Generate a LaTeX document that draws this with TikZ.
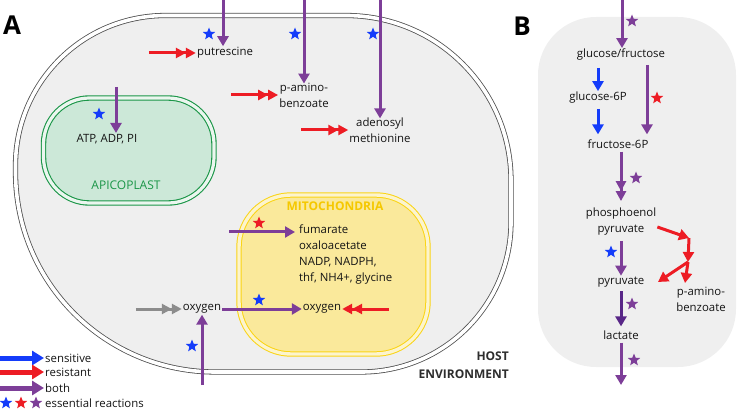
\documentclass[tikz,border=0pt]{standalone}
\usepackage{fontspec}
\setmainfont{Open Sans}
\usetikzlibrary{arrows.meta,shapes.geometric,calc,positioning}

\definecolor{sensblue}{RGB}{20,60,250}
\definecolor{resred}{RGB}{237,28,36}
\definecolor{bothpurple}{RGB}{125,62,152}
\definecolor{lactpurple}{RGB}{88,38,135}
\definecolor{o2gray}{RGB}{140,140,140}
\definecolor{cellfill}{RGB}{239,239,239}
\definecolor{membrane}{RGB}{80,80,80}
\definecolor{apifill}{RGB}{204,232,216}
\definecolor{apigreen}{RGB}{27,150,72}
\definecolor{mitofill}{RGB}{250,233,155}
\definecolor{mitoline}{RGB}{250,212,20}
\definecolor{mitotext}{RGB}{245,200,0}
\definecolor{hosttext}{RGB}{45,45,45}

\tikzset{
  flux/.style={line width=3pt,-{Triangle[length=10pt,width=11pt]}},
  sens/.style={flux,draw=sensblue},
  res/.style={flux,draw=resred},
  both/.style={flux,draw=bothpurple},
  twin/.style={line width=3pt,-{Triangle[length=10pt,width=10pt]Triangle[length=10pt,width=10pt]}},
  keyarrow/.style={line width=5pt,-{Triangle[length=12pt,width=14pt]}},
  ess/.style={star,star points=5,star point ratio=2.3,inner sep=0pt,minimum size=13pt,draw=none},
  lbl/.style={font=\fontsize{11.4}{16}\selectfont,inner sep=1pt,align=center,text=black!92},
  panel/.style={font=\fontsize{26}{26}\selectfont\bfseries,inner sep=0pt},
}

\begin{document}
\begin{tikzpicture}[x=1pt,y=1pt,yscale=-1]
\useasboundingbox (0,0) rectangle (737,409);

% host cell with double membrane
\draw[fill=cellfill,draw=membrane,line width=0.8pt,double=white,double distance=3.6pt]
  (300,15.5) [rounded corners=165pt] -- (511,15.5) [rounded corners=150pt] -- (511,372)
  [rounded corners=200pt] -- (15.5,372) [rounded corners=150pt] -- (15.5,15.5) [sharp corners] -- cycle;

% organelles
\draw[fill=apifill,draw=apigreen,line width=1.1pt,double=white!60!apifill,double distance=3.2pt,
  rounded corners=46pt] (43.5,98) rectangle (214,203);
\draw[fill=mitofill,draw=mitoline,line width=1pt,double=white!50!mitofill,double distance=3.4pt,
  rounded corners=52pt] (239,195) rectangle (428,354);

% panel B background
\fill[cellfill,rounded corners=58pt] (538,17) rectangle (736,367);

% panel letters
\node[panel] (lettA) at (12,25) {A};
\node[panel] (lettB) at (522,26) {B};

% metabolites, panel A
\node[lbl] (put) at (225,53) {putrescine};
\node[lbl] (pab) at (304,95) {p-amino-\\benzoate};
\node[lbl] (sam) at (380,130) {adenosyl\\methionine};
\node[lbl] (atp) at (107,139) {ATP, ADP, PI};
\node[lbl,font=\fontsize{12}{14}\selectfont,text=apigreen] (apiname) at (126,185) {APICOPLAST};
\node[lbl,font=\fontsize{12}{14}\selectfont\bfseries,text=mitotext] (mitoname) at (335,206) {MITOCHONDRIA};
\node[lbl,anchor=north west,align=left] (mitoin) at (298,224) {fumarate\\oxaloacetate\\NADP, NADPH,\\thf, NH4+, glycine};
\node[lbl] (oxc) at (202,309) {oxygen};
\node[lbl] (oxm) at (322,309) {oxygen};
\node[lbl,anchor=east,align=right,font=\fontsize{12}{18}\selectfont\bfseries,text=hosttext] (host) at (510,365) {HOST\\ENVIRONMENT};

% free ends
\coordinate (putsrc) at (223,0);
\coordinate (pabsrc) at (304,0);
\coordinate (samsrc) at (380,0);
\coordinate (atpsrc) at (116,87);
\coordinate (fumsrc) at (229,232);
\coordinate (fumtip) at (295,232);
\coordinate (oxsrc) at (202,385);

% uptake from host
\draw[both] (putsrc) -- (put.north -| putsrc);
\draw[both] (pabsrc) -- ([yshift=2pt]pab.north);
\draw[both] (samsrc) -- ([yshift=2pt]sam.north);
\draw[both] (atpsrc) -- (atp.north -| atpsrc);
\draw[both] (fumsrc) -- (fumtip);
\draw[both] (oxc.east) -- (oxm.west);
\draw[both] (oxsrc) -- (oxc.south);

% synthesis (resistant) and gas
\draw[twin,draw=resred] ($(put.west)+(-47,0)$) -- (put.west);
\draw[twin,draw=resred] ($(pab.west)+(-47,0)$) -- (pab.west);
\draw[twin,draw=resred] ($(sam.west)+(-47,0)$) -- (sam.west);
\draw[twin,draw=resred] ($(oxm.east)+(47,0)$) -- (oxm.east);
\draw[twin,draw=o2gray] ($(oxc.west)+(-46,0)$) -- (oxc.west);

% essential reactions, panel A
\node[ess,fill=sensblue] (sput) at (209,34) {};
\node[ess,fill=sensblue] (spab) at (295,34) {};
\node[ess,fill=sensblue] (ssam) at (373,34) {};
\node[ess,fill=sensblue] (satp) at (99,114) {};
\node[ess,fill=resred] (sfum) at (259,223) {};
\node[ess,fill=sensblue] (soxm) at (259,300) {};
\node[ess,fill=sensblue] (soxc) at (192,346) {};

% legend
\coordinate (keyA) at (0,358);
\coordinate (keyB) at (0,372);
\coordinate (keyC) at (0,388);
\node[lbl,anchor=west] (ksens) at (44,358) {sensitive};
\node[lbl,anchor=west] (kres) at (44,372) {resistant};
\node[lbl,anchor=west] (kboth) at (44,388) {both};
\node[lbl,anchor=west] (kess) at (44,403) {essential reactions};
\draw[keyarrow,draw=sensblue] (keyA) -- (ksens.west);
\draw[keyarrow,draw=resred] (keyB) -- (kres.west);
\draw[keyarrow,draw=bothpurple] (keyC) -- (kboth.west);
\node[ess,fill=sensblue] (kstarA) at (6,403) {};
\node[ess,fill=resred] (kstarB) at (21,403) {};
\node[ess,fill=bothpurple] (kstarC) at (36,403) {};

% panel B: glycolysis
\node[lbl] (gf) at (621,55) {glucose/fructose};
\node[lbl] (g6p) at (598,98) {glucose-6P};
\node[lbl] (f6p) at (618,144) {fructose-6P};
\node[lbl] (pep) at (621,222) {phosphoenol\\pyruvate};
\node[lbl] (pyr) at (621,282) {pyruvate};
\node[lbl] (lac) at (621,335) {lactate};
\node[lbl] (pabB) at (701,299) {p-amino-\\benzoate};

\coordinate (gfsrc) at (622,0);
\coordinate (fx) at (647,0);
\coordinate (lacout) at (621,385);
\coordinate (rb1) at (689,238);
\coordinate (rb2) at (688,262);
\coordinate (rb3) at (685,283);
\coordinate (rb4) at (658,282);

\draw[both] (gfsrc) -- (gf.north -| gfsrc);
\draw[sens,shorten <=6pt] (gf.south -| g6p.north) -- (g6p.north);
\draw[sens,shorten <=4pt,shorten >=4pt] (g6p.south) -- (f6p.north -| g6p.south);
\draw[both,shorten <=3pt,shorten >=4pt] (gf.south -| fx) -- (f6p.north -| fx);
\draw[twin,draw=bothpurple,shorten <=2pt,shorten >=6pt] (f6p.south -| pep.north) -- (pep.north);
\draw[both,shorten <=4pt] (pep.south) -- (pyr.north);
\draw[flux,draw=lactpurple,shorten <=3pt,shorten >=3pt] (pyr.south) -- (lac.north);
\draw[both,shorten <=2pt] (lac.south) -- (lacout);

\draw[res] ($(pep.east)+(0,5)$) -- (rb1);
\draw[res] (rb1) -- (rb2);
\draw[res] (rb2) -- (rb4);
\draw[res] (rb2) -- (rb3);

% essential reactions, panel B
\node[ess,fill=bothpurple] (sgf) at (632,21) {};
\node[ess,fill=resred] (sf6p) at (657,98) {};
\node[ess,fill=bothpurple] (spep) at (636,178) {};
\node[ess,fill=sensblue] (spyr) at (611,252) {};
\node[ess,fill=bothpurple] (slac) at (632,304) {};
\node[ess,fill=bothpurple] (sout) at (634,360) {};
\end{tikzpicture}
\end{document}
